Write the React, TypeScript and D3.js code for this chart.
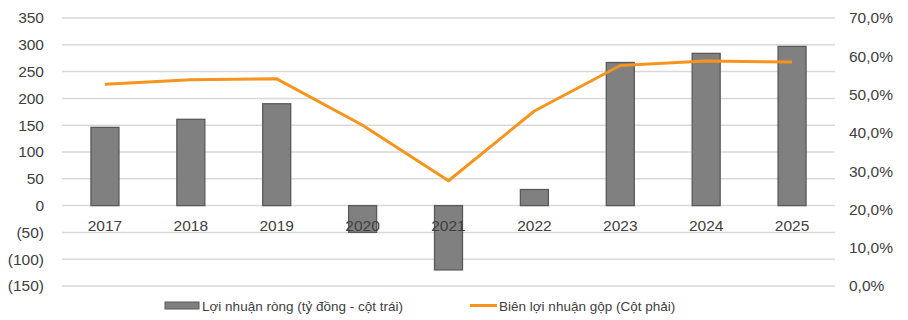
import * as d3 from "d3";
import React from "react";

const years = ["2017", "2018", "2019", "2020", "2021", "2022", "2023", "2024", "2025"];
const netProfit = [146, 161, 190, -50, -120, 30, 267, 284, 297];
const grossMargin = [52.7, 53.9, 54.1, 42.0, 27.5, 45.7, 57.6, 58.8, 58.5];
const leftTicks = [350, 300, 250, 200, 150, 100, 50, 0, -50, -100, -150];
const rightTicks = [70, 60, 50, 40, 30, 20, 10, 0];

const W = 908;
const H = 320;
const margin = { top: 18, right: 73, bottom: 34, left: 62 };
const font = "'Liberation Sans', Arial, sans-serif";
const textColor = "#404040";

const App: React.FC = () => {
  const x = d3.scaleBand().domain(years).range([margin.left, W - margin.right]);
  const y = d3.scaleLinear().domain([-150, 350]).range([H - margin.bottom, margin.top]);
  const y2 = d3.scaleLinear().domain([0, 70]).range([H - margin.bottom, margin.top]);
  const barW = 28;

  const line = d3
    .line<number>()
    .x((d, i) => (x(years[i]) as number) + x.bandwidth() / 2)
    .y((d) => y2(d));

  const fmtLeft = (v: number) => (v < 0 ? `(${Math.abs(v)})` : `${v}`);
  const fmtRight = (v: number) => `${v.toFixed(1).replace(".", ",")}%`;

  return (
    <svg
      width={W}
      height={H}
      style={{ position: "absolute", left: 0, top: 0, background: "#fff" }}
      fontFamily={font}
    >
      {/* gridlines */}
      {leftTicks.map((t) => (
        <line
          key={t}
          x1={margin.left}
          x2={W - margin.right}
          y1={y(t)}
          y2={y(t)}
          stroke="#d9d9d9"
          strokeWidth={1.5}
        />
      ))}
      {/* left axis labels */}
      {leftTicks.map((t) => (
        <text key={"l" + t} x={44} y={y(t)} dy="0.35em" textAnchor="end" fontSize={15.5} fill={textColor}>
          {fmtLeft(t)}
        </text>
      ))}
      {/* right axis labels */}
      {rightTicks.map((t) => (
        <text key={"r" + t} x={849} y={y2(t)} dy="0.35em" textAnchor="start" fontSize={15.5} fill={textColor}>
          {fmtRight(t)}
        </text>
      ))}
      {/* bars */}
      {netProfit.map((v, i) => {
        const cx = (x(years[i]) as number) + x.bandwidth() / 2;
        return (
          <rect
            key={years[i]}
            x={cx - barW / 2}
            y={Math.min(y(v), y(0))}
            width={barW}
            height={Math.abs(y(v) - y(0))}
            fill="#808080"
            stroke="#595959"
            strokeWidth={1.3}
          />
        );
      })}
      {/* category labels */}
      {years.map((yr) => (
        <text
          key={"x" + yr}
          x={(x(yr) as number) + x.bandwidth() / 2}
          y={y(0) + 25}
          textAnchor="middle"
          fontSize={15.5}
          fill={textColor}
        >
          {yr}
        </text>
      ))}
      {/* margin line */}
      <path d={line(grossMargin) || ""} fill="none" stroke="#f7941d" strokeWidth={3} strokeLinejoin="round" />
      {/* legend */}
      <rect x={165} y={302} width={34} height={7} fill="#808080" stroke="#595959" strokeWidth={1} />
      <text x={202} y={311} fontSize={13.5} fill={textColor}>
        Lợi nhuận ròng (tỷ đồng - cột trái)
      </text>
      <line x1={470} x2={497} y1={305.5} y2={305.5} stroke="#f7941d" strokeWidth={3} />
      <text x={499} y={311} fontSize={13.5} fill={textColor}>
        Biên lợi nhuận gộp (Cột phải)
      </text>
    </svg>
  );
};

export default App;
